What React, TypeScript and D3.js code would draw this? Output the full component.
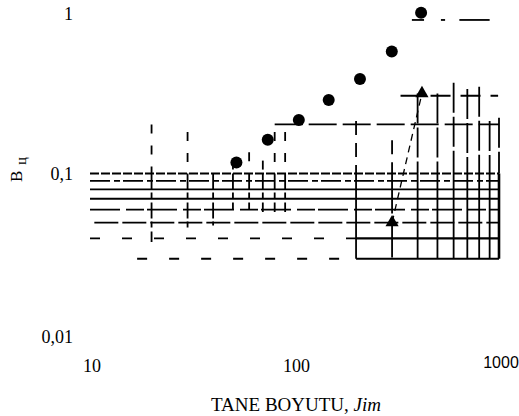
import React from 'react';
import * as d3 from 'd3';

// grain size (um) vs B_ц
const circleSize = [52, 74, 105, 147, 209, 299, 416];
const circleB = [0.117, 0.161, 0.213, 0.282, 0.38, 0.56, 0.97];
const triSize = [300, 420];
const triB = [0.05, 0.31];

const xTicks = [10, 100, 1000];
const xTickLabels = ['10', '100', '1000'];
const yTicks = [1, 0.1, 0.01];
const yTickLabels = ['1', '0,1', '0,01'];

// grid values (log paper), with the extents that survived the scan
const vGrid = [20, 30, 40, 50, 60, 70, 80, 90, 200, 300, 400, 500, 600, 700, 800, 900, 1000];
const vTop = [0.2, 0.18, 0.1, 0.12, 0.135, 0.12, 0.18, 0.18, 0.21, 0.16, 0.31, 0.31, 0.36, 0.33, 0.34, 0.21, 0.22];
const vBottom = [0.038, 0.045, 0.048, 0.06, 0.06, 0.058, 0.058, 0.058, 0.03, 0.03, 0.03, 0.03, 0.03, 0.03, 0.03, 0.03, 0.03];
const hGrid = [0.1, 0.09, 0.08, 0.07, 0.06, 0.05, 0.04, 0.03, 0.2, 0.3];
const hFrom = [10, 10, 10, 10, 10, 10.5, 10, 17, 80, 330];
const hTo = [1000, 1000, 1000, 1000, 1000, 1000, 1000, 1000, 1000, 990];
const topFrag = [[375, 430], [520, 545], [640, 900]];

const App = () => {
  const x = d3.scaleLog().domain([10, 1000]).range([90, 499]);
  const y = d3.scaleLog().domain([0.01, 1]).range([336.5, 10.5]);

  const serif = '"Liberation Serif", "DejaVu Serif", serif';
  const sans = '"Liberation Sans", Arial, sans-serif';

  const hDash = (v: number) => {
    if (v === 0.1) return '9,2';
    if (v === 0.09) return '20,4,6,3';
    if (v === 0.06) return '30,6,18,3';
    if (v === 0.05) return '24,4';
    if (v === 0.04 || v === 0.03) return '10,22';
    if (v === 0.2) return '28,6';
    if (v === 0.3) return '20,10';
    return 'none';
  };

  const tri = d3.symbol().type(d3.symbolTriangle).size(75);
  const dashLine = d3.line<number>()
    .x((_, i) => x(triSize[i]))
    .y((d) => y(d));

  return (
    <svg width={519} height={416} style={{ position: 'absolute', left: 0, top: 0, background: '#fff' }}>
      <g stroke="#000" fill="none" strokeWidth={1.8}>
        {hGrid.map((v, i) => (
          <g key={'h' + v}>
            <line x1={x(hFrom[i])} x2={x(v < 0.05 ? 200 : hTo[i])} y1={y(v)} y2={y(v)} strokeDasharray={hDash(v)} />
            {v < 0.05 && (
              <line x1={x(200)} x2={x(hTo[i])} y1={y(v)} y2={y(v)} strokeWidth={2.2} />
            )}
          </g>
        ))}
        {vGrid.map((v, i) => (
          <g key={'v' + v}>
            <line x1={x(v)} x2={x(v)} y1={y(Math.min(vTop[i], 0.1))} y2={y(vBottom[i])}
              strokeDasharray={v < 200 ? '16,3,6,4' : v === 300 ? '40,4' : 'none'}
              strokeWidth={v === 1000 ? 2.6 : 1.8} />
            {vTop[i] > 0.1 && (
              <line x1={x(v)} x2={x(v)} y1={y(vTop[i])} y2={y(0.1)}
                strokeDasharray={v < 200 ? '9,12' : v === 200 || v === 300 ? '14,8' : '30,4'} />
            )}
          </g>
        ))}
        {topFrag.map((f, i) => (
          <line key={'t' + i} x1={x(f[0])} x2={x(f[1])} y1={y(0.875)} y2={y(0.875)} />
        ))}
      </g>

      <path d={dashLine(triB) ?? ''} fill="none" stroke="#000" strokeWidth={1.3} strokeDasharray="7,5" />

      {circleSize.map((s, i) => (
        <circle key={'c' + s} cx={x(s)} cy={y(circleB[i])} r={6} fill="#000" />
      ))}
      {triSize.map((s, i) => (
        <path key={'tr' + s} d={tri() ?? ''} transform={`translate(${x(s)},${y(triB[i])})`} fill="#000" />
      ))}

      {yTicks.map((t, i) => (
        <text key={'yt' + t} x={73} y={y(t) + (t === 1 ? 9 : 6)} textAnchor="end"
          fontFamily={serif} fontSize={18} fill="#000">{yTickLabels[i]}</text>
      ))}
      {xTicks.map((t, i) => (
        <text key={'xt' + t} x={x(t) + 2} y={t === 1000 ? 368 : 372} textAnchor="middle"
          fontFamily={t === 1000 ? sans : serif} fontSize={t === 1000 ? 16 : 18} fill="#000">{xTickLabels[i]}</text>
      ))}

      <text x={296} y={411} textAnchor="middle" fontFamily={serif} fontSize={19} fill="#000">
        TANE BOYUTU, <tspan fontStyle="italic">Jim</tspan>
      </text>
      <text transform="translate(22,182) rotate(-90)" fontFamily={serif} fontSize={17} fill="#000">
        B<tspan fontSize={14} dy={4} dx={6}>ц</tspan>
      </text>
    </svg>
  );
};

export default App;
